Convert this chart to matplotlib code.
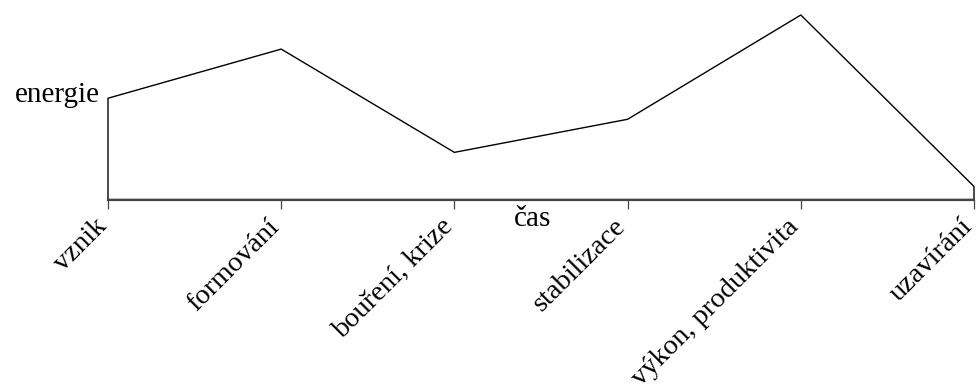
import numpy as np
import matplotlib
matplotlib.use("Agg")
from matplotlib import pyplot as plt
from matplotlib.transforms import ScaledTranslation

plt.rcParams['font.family'] = ['Liberation Serif', 'DejaVu Serif']

# faze vyvoje tymu a jejich energie (odhad z obrazku)
faze = ['vznik', 'formování', 'bouření, krize', 'stabilizace',
        'výkon, produktivita', 'uzavírání']
energie = [101, 150, 47, 80, 184, 13]

W, H = 977, 392
fig = plt.figure(figsize=(W / 100, H / 100), dpi=100)
ax = fig.add_axes([108 / W, (H - 199.5) / H, (974 - 108) / W, (199.5 - 15) / H])

x = np.arange(len(faze))
# obrys pod krivkou: svisle cary na krajich + krivka
ax.fill_between(x, energie, 0, facecolor='none', edgecolor='black',
                linewidth=1.0, clip_on=False)

ax.set_xlim(x[0], x[-1])
ax.set_ylim(0, max(energie))

for s in ['top', 'right', 'left']:
    ax.spines[s].set_visible(False)
ax.spines['bottom'].set_color('#444444')
ax.spines['bottom'].set_linewidth(1.6)
ax.spines['bottom'].set_zorder(3)

ax.set_yticks([])
ax.set_xticks(x)
ax.set_xticklabels(faze, rotation=45, ha='right', va='top', fontsize=20.5)
ax.tick_params(axis='x', direction='out', length=6.5, width=0.9,
               color='#444444', pad=4)

# posun popisku kousek doprava
posun = ScaledTranslation(3.5 / 100, 0, fig.dpi_scale_trans)
for lab in ax.get_xticklabels():
    lab.set_transform(lab.get_transform() + posun)

ax.set_xlabel('čas', fontsize=21)
ax.xaxis.set_label_coords(0.49, -0.035)

ax.set_ylabel('energie', fontsize=21, rotation=0, ha='right', va='baseline')
ax.yaxis.set_label_coords(-0.009, (energie[0] - 4) / max(energie))

fig.savefig('out.png', dpi=100)
